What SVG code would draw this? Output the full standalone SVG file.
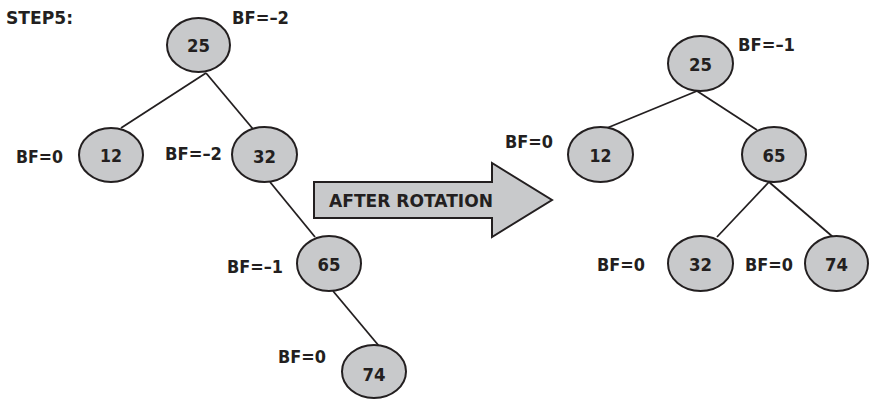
<svg xmlns="http://www.w3.org/2000/svg" width="870" height="399" viewBox="0 0 870 399">
<style>
.n{fill:#c8c9cb;stroke:#231f20;stroke-width:2}
.e{stroke:#231f20;stroke-width:1.8;fill:none}
text{font-family:"DejaVu Sans",Verdana,sans-serif;font-weight:bold;fill:#231f20}
.v{font-size:17.5px;text-anchor:middle}
.l{font-size:17px}
</style>
<rect width="870" height="399" fill="#fff"/>
<g id="connectors">
<line class="e" x1="206" y1="73" x2="121" y2="128"/>
<line class="e" x1="206" y1="73" x2="253" y2="129"/>
<line class="e" x1="270" y1="182" x2="315" y2="237"/>
<line class="e" x1="333" y1="291" x2="379" y2="346"/>
<line class="e" x1="697" y1="91" x2="607" y2="128"/>
<line class="e" x1="697" y1="91" x2="757" y2="130"/>
<line class="e" x1="769" y1="182" x2="717" y2="237"/>
<line class="e" x1="769" y1="182" x2="833" y2="237"/>
</g>
<text class="l" x="6" y="24" textLength="67" lengthAdjust="spacingAndGlyphs">STEP5:</text>
<g id="L25"><ellipse class="n" cx="198.5" cy="45" rx="31.5" ry="27"/><text class="v" x="198.5" y="52" textLength="23" lengthAdjust="spacingAndGlyphs">25</text><text class="l" x="232" y="24" textLength="57" lengthAdjust="spacingAndGlyphs">BF=–2</text></g>
<g id="L12"><ellipse class="n" cx="111" cy="155" rx="32" ry="27"/><text class="v" x="111" y="161.5" textLength="22" lengthAdjust="spacingAndGlyphs">12</text><text class="l" x="16" y="163" textLength="47" lengthAdjust="spacingAndGlyphs">BF=0</text></g>
<g id="L32"><ellipse class="n" cx="264.5" cy="154.5" rx="32.5" ry="27.5"/><text class="v" x="264.5" y="162.5" textLength="23" lengthAdjust="spacingAndGlyphs">32</text><text class="l" x="165" y="160" textLength="57" lengthAdjust="spacingAndGlyphs">BF=–2</text></g>
<g id="L65"><ellipse class="n" cx="329" cy="263.5" rx="32" ry="27.5"/><text class="v" x="329" y="270.5" textLength="23" lengthAdjust="spacingAndGlyphs">65</text><text class="l" x="227" y="273" textLength="56" lengthAdjust="spacingAndGlyphs">BF=–1</text></g>
<g id="L74"><ellipse class="n" cx="374" cy="371.5" rx="32" ry="26.5"/><text class="v" x="374" y="380.5" textLength="23" lengthAdjust="spacingAndGlyphs">74</text><text class="l" x="278" y="363" textLength="48" lengthAdjust="spacingAndGlyphs">BF=0</text></g>
<g id="arrow"><path d="M314,182 H492 V163 L552,200 L492,237 V218 H314 Z" fill="#c8c9cb" stroke="#231f20" stroke-width="2"/><text x="329" y="207" font-size="18" textLength="164" lengthAdjust="spacingAndGlyphs">AFTER ROTATION</text></g>
<g id="R25"><ellipse class="n" cx="700.5" cy="63.5" rx="32.5" ry="27.5"/><text class="v" x="700.5" y="70.5" textLength="23" lengthAdjust="spacingAndGlyphs">25</text><text class="l" x="738" y="51" textLength="57" lengthAdjust="spacingAndGlyphs">BF=–1</text></g>
<g id="R12"><ellipse class="n" cx="600.5" cy="154.5" rx="32.5" ry="27.5"/><text class="v" x="600.5" y="161.5" textLength="22" lengthAdjust="spacingAndGlyphs">12</text><text class="l" x="505" y="148" textLength="48" lengthAdjust="spacingAndGlyphs">BF=0</text></g>
<g id="R65"><ellipse class="n" cx="774" cy="154.5" rx="32" ry="27.5"/><text class="v" x="774" y="161.5" textLength="23" lengthAdjust="spacingAndGlyphs">65</text></g>
<g id="R32"><ellipse class="n" cx="700.5" cy="263.5" rx="32.5" ry="27.5"/><text class="v" x="700.5" y="270.5" textLength="23" lengthAdjust="spacingAndGlyphs">32</text><text class="l" x="597" y="271" textLength="48" lengthAdjust="spacingAndGlyphs">BF=0</text></g>
<g id="R74"><ellipse class="n" cx="836.5" cy="263.5" rx="31.5" ry="27.5"/><text class="v" x="836.5" y="270.5" textLength="23" lengthAdjust="spacingAndGlyphs">74</text><text class="l" x="745" y="271" textLength="48" lengthAdjust="spacingAndGlyphs">BF=0</text></g>
</svg>
